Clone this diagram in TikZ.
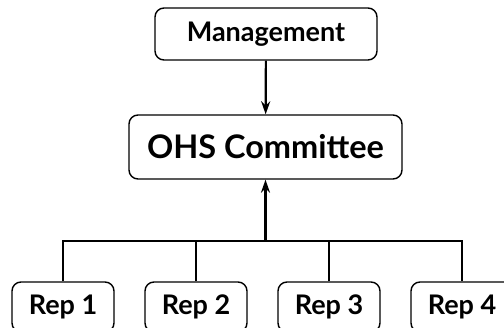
\documentclass[tikz,border=0pt]{standalone}
\usepackage{fontspec}
\setmainfont{Lato}
\usetikzlibrary{arrows.meta, positioning}
\tikzset{
  box/.style={draw, rounded corners=9pt, line width=1.4pt, font=\bfseries\fontsize{#1}{#1}\selectfont, inner sep=0pt},
  arr/.style={-{Stealth[length=13pt, width=9pt]}, line width=2.2pt},
  bus/.style={line width=2.2pt},
}
\begin{document}
\begin{tikzpicture}[x=1pt, y=-1pt]
    \clip (0,0) rectangle (504,328);
    \node[box=27, minimum width=222pt, minimum height=52pt] (mgmt) at (266,34) {Management};
    \node[box=32.5, minimum width=273pt, minimum height=64pt] (ohs) at (265.5,147) {OHS Committee};
    \node[box=27, minimum width=102pt, minimum height=50pt] (rep1) at (63,307) {Rep 1};
    \node[box=27, minimum width=102pt, minimum height=50pt] (rep2) at (196,307) {Rep 2};
    \node[box=27, minimum width=102pt, minimum height=50pt] (rep3) at (329,307) {Rep 3};
    \node[box=27, minimum width=102pt, minimum height=50pt] (rep4) at (462,307) {Rep 4};
    \coordinate (join) at (ohs.south |- 0,241);
    \draw[arr] (mgmt) -- (ohs);
    \draw[bus] (rep1.north) |- (join) -| (rep4.north);
    \draw[bus] (rep2.north) -- (rep2.north |- join);
    \draw[bus] (rep3.north) -- (rep3.north |- join);
    \draw[arr] (join) -- (ohs);
  \end{tikzpicture}
\end{document}
